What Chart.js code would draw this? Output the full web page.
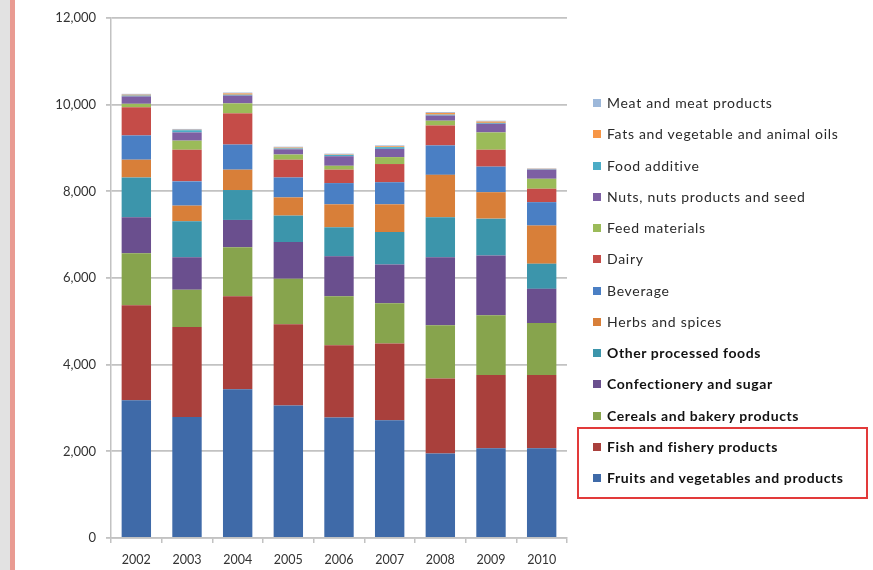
<!DOCTYPE html>
<html>
<head>
<meta charset="utf-8">
<script src="https://cdn.jsdelivr.net/npm/chart.js@4.4.1/dist/chart.umd.min.js"></script>
<style>
  html, body { margin: 0; padding: 0; background: #fff; }
  #page { position: relative; width: 873px; height: 570px; overflow: hidden; background: #fff; }
  #band { position: absolute; left: 0; top: 0; width: 10px; height: 570px; background: #e2e2e2; }
  #rule { position: absolute; left: 10px; top: 0; width: 5px; height: 570px; background: #e99b92; }
  #chart { position: absolute; left: 0; top: 0; }
  #legend { position: absolute; left: 593px; top: 95px; font-family: Lato, "Liberation Sans", sans-serif; font-size: 14px; color: #2a2a2a; }
  .item { position: absolute; left: 0; height: 16px; white-space: nowrap; line-height: 16px; }
  .item span.box { position: absolute; left: 0; top: 4px; width: 8px; height: 8px; }
  .item span.txt { position: absolute; left: 14px; top: 0; letter-spacing: 0.7px; }
  .item.strong span.txt { font-weight: bold; color: #111; letter-spacing: 0.6px; }
  #frame { position: absolute; left: 577px; top: 427px; width: 291px; height: 72px; border: 2px solid #e23a3a; box-sizing: border-box; }
</style>
</head>
<body>
<div id="page">
  <div id="band"></div>
  <div id="rule"></div>
  <canvas id="chart" width="873" height="570"></canvas>
  <div id="legend"></div>
  <div id="frame"></div>
</div>
<script>
// Years on the category axis
const years = ["2002", "2003", "2004", "2005", "2006", "2007", "2008", "2009", "2010"];

// Value ticks shown on the left axis
const yTicks = [0, 2000, 4000, 6000, 8000, 10000, 12000];

// Product groups, stacked from the bottom up
const fruitsVeg      = [3180, 2790, 3430, 3060, 2780, 2720, 1950, 2070, 2070];
const fishery        = [2190, 2080, 2150, 1870, 1670, 1770, 1730, 1690, 1690];
const cereals        = [1200,  860, 1130, 1050, 1130,  930, 1230, 1380, 1200];
const confectionery  = [ 830,  750,  630,  850,  920,  890, 1570, 1380,  790];
const otherProcessed = [ 920,  830,  690,  610,  670,  750,  920,  850,  580];
const herbsSpices    = [ 410,  360,  470,  420,  530,  640,  980,  610,  880];
const beverage       = [ 560,  560,  580,  460,  490,  510,  680,  590,  540];
const dairy          = [ 650,  730,  720,  410,  310,  420,  460,  390,  310];
const feedMaterials  = [  80,  210,  230,  120,   90,  160,  110,  400,  230];
const nutsSeed       = [ 170,  190,  180,  120,  220,  190,  120,  200,  210];
const foodAdditive   = [  20,   50,   20,   20,   30,   40,   20,   20,   10];
const fatsOils       = [  20,   10,   30,   20,   10,   20,   40,   30,   10];
const meat           = [  20,   20,   20,   20,   20,   20,   20,   20,   10];

const seriesNames = [
  "Fruits and vegetables and products",
  "Fish and fishery products",
  "Cereals and bakery products",
  "Confectionery and sugar",
  "Other processed foods",
  "Herbs and spices",
  "Beverage",
  "Dairy",
  "Feed materials",
  "Nuts, nuts products and seed",
  "Food additive",
  "Fats and vegetable and animal oils",
  "Meat and meat products"
];
const seriesValues = [fruitsVeg, fishery, cereals, confectionery, otherProcessed, herbsSpices,
  beverage, dairy, feedMaterials, nutsSeed, foodAdditive, fatsOils, meat];
const seriesColors = ["#3f6aa8", "#a9403c", "#87a44d", "#6a4f8e", "#3c95ab", "#d87f39",
  "#4a7fc4", "#c54c48", "#9bbb59", "#7d5fa3", "#4bacc6", "#f79646", "#9db8da"];
// Groups drawn in bold in the key
const boldNames = new Set(["Other processed foods", "Confectionery and sugar",
  "Cereals and bakery products", "Fish and fishery products", "Fruits and vegetables and products"]);

const datasets = seriesNames.map((name, i) => ({
  label: name,
  data: seriesValues[i],
  backgroundColor: seriesColors[i],
  borderWidth: 0,
  categoryPercentage: 1.0,
  barPercentage: 0.58
}));

const axisGray = "#c2c2c2";

new Chart(document.getElementById("chart"), {
  type: "bar",
  data: { labels: years, datasets },
  options: {
    responsive: false,
    animation: false,
    events: [],
    layout: { padding: { left: 20, right: 306, top: 18, bottom: 0 } },
    plugins: { legend: { display: false }, tooltip: { enabled: false }, title: { display: false } },
    scales: {
      x: {
        stacked: true,
        offset: true,
        afterFit: (s) => { s.height = 32; },
        grid: { display: true, drawOnChartArea: false, drawTicks: true, tickLength: 5, offset: true, color: axisGray, lineWidth: 1.5 },
        border: { display: true, color: axisGray, width: 1.5 },
        ticks: { color: "#333", padding: 9, font: { family: "Lato", size: 12.5 } }
      },
      y: {
        stacked: true,
        min: 0,
        max: 12000,
        afterFit: (s) => { s.width = 91; },
        afterBuildTicks: (s) => { s.ticks = yTicks.map(v => ({ value: v })); },
        grid: { color: axisGray, lineWidth: 1.8, drawTicks: true, tickLength: 5 },
        border: { display: true, color: axisGray, width: 1.5 },
        ticks: {
          color: "#333",
          padding: 10,
          font: { family: "Lato", size: 13 },
          callback: (v) => v.toLocaleString("en-US")
        }
      }
    }
  }
});

// Key on the right, listed top layer first
const legend = document.getElementById("legend");
const order = seriesNames.map((_, i) => i).reverse();
order.forEach((idx, row) => {
  const item = document.createElement("div");
  item.className = "item" + (boldNames.has(seriesNames[idx]) ? " strong" : "");
  item.style.top = (row * 31.25) + "px";
  const box = document.createElement("span");
  box.className = "box";
  box.style.background = seriesColors[idx];
  const txt = document.createElement("span");
  txt.className = "txt";
  txt.textContent = seriesNames[idx];
  item.appendChild(box);
  item.appendChild(txt);
  legend.appendChild(item);
});
</script>
</body>
</html>
